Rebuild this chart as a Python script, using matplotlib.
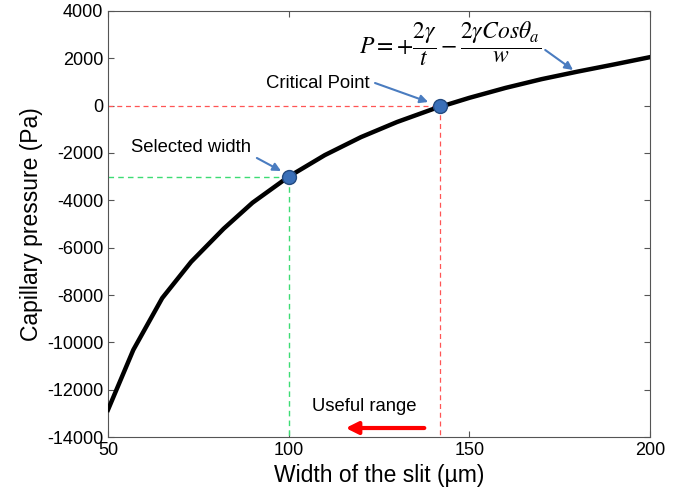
import numpy as np
import matplotlib
matplotlib.use('Agg')
import matplotlib.pyplot as plt

# curve
width_um = [50, 57, 65, 73, 82, 90, 100, 110, 120, 130, 140, 150, 160, 170, 180, 190, 200]
pressure_pa = [-12850, -10320, -8130, -6600, -5200, -4100, -3000,
               -2090, -1330, -690, -140, 330, 750, 1120, 1440, 1740, 2050]

critical_w, critical_p = 142, 0
selected_w, selected_p = 100, -3000

x_ticks = [50, 100, 150, 200]
y_ticks = [4000, 2000, 0, -2000, -4000, -6000, -8000, -10000, -12000, -14000]

plt.rcParams['font.family'] = ['Liberation Sans', 'DejaVu Sans']
plt.rcParams['mathtext.fontset'] = 'stix'
plt.rcParams['axes.unicode_minus'] = False

fig = plt.figure(figsize=(6.81, 4.97), dpi=100)
ax = fig.add_axes([0.1586, 0.1207, 0.7959, 0.8572])

ax.plot(width_um, pressure_pa, color='black', lw=3.2, zorder=3, solid_joinstyle='round')

# guide lines
red_dash = dict(color='#ff5555', ls=(0, (4, 3)), lw=0.9)
green_dash = dict(color='#3ddc74', ls=(0, (4, 3)), lw=1.0)
ax.plot([50, critical_w], [critical_p, critical_p], **red_dash)
ax.plot([critical_w, critical_w], [critical_p, -14000], **red_dash)
ax.plot([50, selected_w], [selected_p, selected_p], **green_dash)
ax.plot([selected_w, selected_w], [selected_p, -14000], **green_dash)

ax.plot([critical_w, selected_w], [critical_p, selected_p], ls='none', marker='o', ms=10,
        mfc='#3a6fb8', mec='#234a80', mew=1, zorder=4)

# labels and their arrows
arrow_blue = dict(arrowstyle='-|>', color='#4a7cc0', lw=1.5, mutation_scale=12,
                  shrinkA=0, shrinkB=0)
ax.text(108, 957, 'Critical Point', ha='center', va='center', fontsize=13.3)
ax.annotate('', xy=(138.6, 155), xytext=(123.9, 957), arrowprops=arrow_blue)
ax.text(73, -1789, 'Selected width', ha='center', va='center', fontsize=13.3)
ax.annotate('', xy=(97.9, -2761), xytext=(91.2, -2211), arrowprops=arrow_blue)
ax.text(144.7, 2600, r'$P=+\dfrac{2\gamma}{t}-\dfrac{2\gamma Cos\theta_a}{w}$',
        ha='center', va='center', fontsize=17)
ax.annotate('', xy=(178.7, 1507), xytext=(171, 2352), arrowprops=arrow_blue)

ax.text(121, -12730, 'Useful range', ha='center', va='center', fontsize=13.3)
ax.annotate('', xy=(115, -13620), xytext=(138.3, -13620),
            arrowprops=dict(arrowstyle='-|>', color='red', lw=3, mutation_scale=18))

ax.set_xlim(50, 200)
ax.set_ylim(-14000, 4000)
ax.set_xticks(x_ticks)
ax.set_yticks(y_ticks)
ax.tick_params(direction='in', top=True, right=True, length=4, labelsize=13, color='#555555')
for s in ax.spines.values():
    s.set_color('#555555')
ax.set_xlabel('Width of the slit (µm)', fontsize=16.5)
ax.set_ylabel('Capillary pressure (Pa)', fontsize=16.5, labelpad=3)

fig.savefig('out.png', dpi=100)
